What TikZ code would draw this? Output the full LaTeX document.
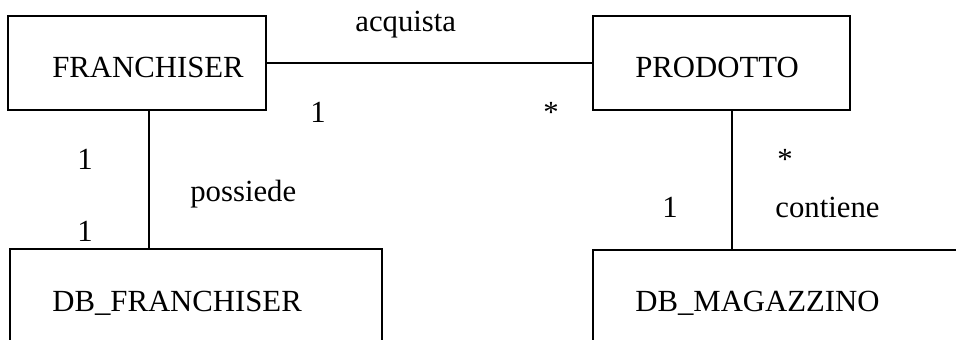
\documentclass[tikz,border=0pt]{standalone}
\usepackage{fontspec}
\setmainfont{Liberation Serif}
\usetikzlibrary{positioning}

\begin{document}
\begin{tikzpicture}[x=0.02cm, y=-0.02cm,
    font=\fontsize{17.5}{21}\selectfont,
    box/.style={draw, line width=0.9pt, rectangle, inner sep=0pt},
    txt/.style={inner sep=0pt, anchor=base west},
    link/.style={line width=0.9pt}]
  \useasboundingbox (0,0) rectangle (956,340);
  \clip (0,0) rectangle (956,340);
  % classi
  \node [box, minimum width=5.16cm, minimum height=1.88cm] (franchiser) at (137,63) {};
  \node [box, minimum width=5.14cm, minimum height=1.88cm] (prodotto) at (721.5,63) {};
  \node [box, minimum width=7.44cm, minimum height=2.22cm] (dbfranchiser) at (196,304.5) {};
  \node [box, minimum width=7.74cm, minimum height=2.2cm] (dbmagazzino) at (786.5,305) {};
  \node [txt] (franchisertxt) at (52,78) {FRANCHISER};
  \node [txt] (prodottotxt) at (635,78) {PRODOTTO};
  \node [txt] (dbfranchisertxt) at (52,312) {DB\_FRANCHISER};
  \node [txt] (dbmagazzinotxt) at (635,312) {DB\_MAGAZZINO};
  % associazioni
  \draw [link] (franchiser.east) -- (prodotto.west);
  \draw [link] ([xshift=0.24cm]franchiser.south) -- ([xshift=0.24cm]franchiser.south |- dbfranchiser.north);
  \draw [link] ([xshift=0.21cm]prodotto.south) -- ([xshift=0.21cm]prodotto.south |- dbmagazzino.north);
  \node [txt] (acquista) at (355,32) {acquista};
  \node [txt] (possiede) at (190,202) {possiede};
  \node [txt] (contiene) at (775,218) {contiene};
  % molteplicita
  \node [txt] (m1) at (310,123) {1};
  \node [txt] (m2) at (543,123) {*};
  \node [txt] (m3) at (77,170) {1};
  \node [txt] (m4) at (77,242) {1};
  \node [txt] (m5) at (777,170) {*};
  \node [txt] (m6) at (662,218) {1};
\end{tikzpicture}
\end{document}
